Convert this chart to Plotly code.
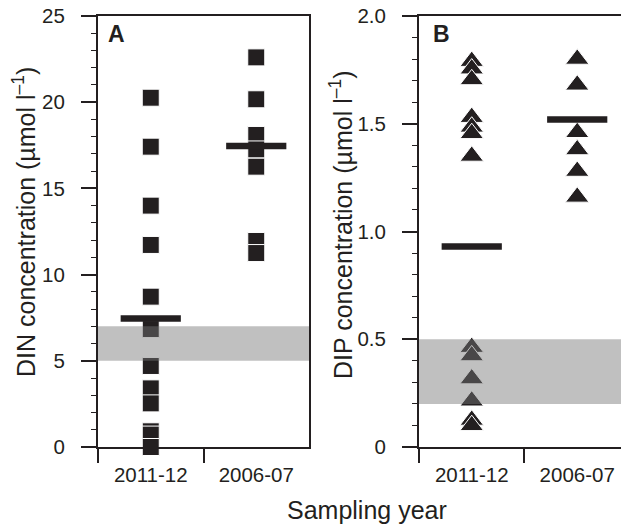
import plotly.graph_objects as go

W, H = 621, 524

categories = ["2011-12", "2006-07"]

din_2011 = [20.26, 17.42, 14.0, 11.72, 8.72, 6.84, 4.7, 3.4, 2.53, 0.91, 0.72, 0.0]
din_2006 = [22.6, 20.17, 18.1, 17.26, 16.26, 11.95, 11.25]
din_means = [7.46, 17.46]
din_band = [5.0, 7.0]

dip_2011 = [1.79, 1.755, 1.705, 1.53, 1.485, 1.455, 1.35, 0.463, 0.424, 0.317, 0.214, 0.125, 0.10]
dip_2006 = [1.80, 1.68, 1.46, 1.38, 1.28, 1.16]
dip_means = [0.93, 1.52]
dip_band = [0.2, 0.5]

din_ticks = [0, 5, 10, 15, 20, 25]
dip_ticks = [0, 0.5, 1.0, 1.5, 2.0]
dip_ticktext = ["0", "0.5", "1.0", "1.5", "2.0"]

INK = "#231f20"
FONT = "Liberation Sans, Arial, Helvetica, sans-serif"

fig = go.Figure()

# Panel A squares
fig.add_trace(go.Scatter(
    x=[categories[0]] * len(din_2011) + [categories[1]] * len(din_2006),
    y=din_2011 + din_2006, mode="markers", xaxis="x", yaxis="y",
    marker=dict(symbol="square", size=17, color=INK, line=dict(color="white", width=1)),
    cliponaxis=False, showlegend=False, hoverinfo="skip"))
fig.add_trace(go.Scatter(
    x=categories, y=din_means, mode="markers", xaxis="x", yaxis="y",
    marker=dict(symbol="line-ew", size=43, line=dict(color=INK, width=6.5)),
    showlegend=False, hoverinfo="skip"))

# Panel B triangles
fig.add_trace(go.Scatter(
    x=[categories[0]] * len(dip_2011) + [categories[1]] * len(dip_2006),
    y=dip_2011 + dip_2006, mode="markers", xaxis="x2", yaxis="y2",
    marker=dict(symbol="triangle-up", size=20.5, color=INK, line=dict(color="white", width=1)),
    cliponaxis=False, showlegend=False, hoverinfo="skip"))
fig.add_trace(go.Scatter(
    x=categories, y=dip_means, mode="markers", xaxis="x2", yaxis="y2",
    marker=dict(symbol="line-ew", size=43, line=dict(color=INK, width=6.5)),
    showlegend=False, hoverinfo="skip"))

band_fill = "rgb(119,119,119)"
fig.add_shape(type="rect", xref="x domain", yref="y", x0=0, x1=1, y0=din_band[0], y1=din_band[1],
              fillcolor=band_fill, opacity=0.464, line_width=0, layer="above")
fig.add_shape(type="rect", xref="x2 domain", yref="y2", x0=0, x1=1, y0=dip_band[0], y1=dip_band[1],
              fillcolor=band_fill, opacity=0.464, line_width=0, layer="above")

ydom = [1 - 447 / H, 1 - 16 / H]

common_x = dict(type="category", tickson="boundaries", ticks="outside", ticklen=14, tickwidth=1.5,
                tickcolor=INK, showline=True, linecolor=INK, linewidth=2, mirror=True,
                showgrid=False, zeroline=False, tickfont=dict(size=20.5, color=INK, family=FONT),
                ticklabelstandoff=8, categoryorder="array", categoryarray=categories,
                automargin=False)
common_y = dict(ticks="outside", ticklen=15, tickwidth=1.5, tickcolor=INK, showline=True,
                linecolor=INK, linewidth=2, showgrid=False, zeroline=False,
                tickfont=dict(size=20.5, color=INK, family=FONT), ticklabelstandoff=12,
                automargin=False)

fig.update_layout(
    template="none",
    width=W, height=H, margin=dict(l=0, r=0, t=0, b=0, pad=0),
    paper_bgcolor="white", plot_bgcolor="white",
    font=dict(family=FONT, color=INK),
    xaxis=dict(domain=[98 / W, 309 / W], range=[-0.5, 1.5], anchor="y", **common_x),
    yaxis=dict(domain=ydom, range=[0, 25], anchor="x", tickvals=din_ticks, mirror=True,
               minor=dict(dtick=1, ticks="outside", ticklen=5, tickcolor=INK, tickwidth=1.2),
               **common_y),
    xaxis2=dict(domain=[419 / W, 1.0], range=[-0.5, 1.415], anchor="y2", **common_x),
    yaxis2=dict(domain=ydom, range=[0, 2.0], anchor="x2", tickvals=dip_ticks, ticktext=dip_ticktext,
                mirror=False,
                minor=dict(dtick=0.1, ticks="outside", ticklen=5, tickcolor=INK, tickwidth=1.2),
                **common_y),
)

def ann(text, px, py, size, bold=False, angle=0, xanchor="center", yanchor="middle"):
    fig.add_annotation(text=f"<b>{text}</b>" if bold else text, xref="paper", yref="paper",
                       x=px / W, y=1 - py / H, showarrow=False, textangle=angle,
                       xanchor=xanchor, yanchor=yanchor,
                       font=dict(size=size, color=INK, family=FONT))

ann("A", 106, 34, 23, bold=True, xanchor="left")
ann("B", 431, 34, 23, bold=True, xanchor="left")
ann("DIN concentration (µmol l<sup>–1</sup>)", 24, 222, 25, angle=-90)
ann("DIP concentration (µmol l<sup>–1</sup>)", 341, 225, 25, angle=-90)
ann("Sampling year", 367, 510, 25)

fig.write_html("out.html", config={"displayModeBar": False},
               post_script="document.body.style.margin='0';document.body.style.overflow='hidden';")
